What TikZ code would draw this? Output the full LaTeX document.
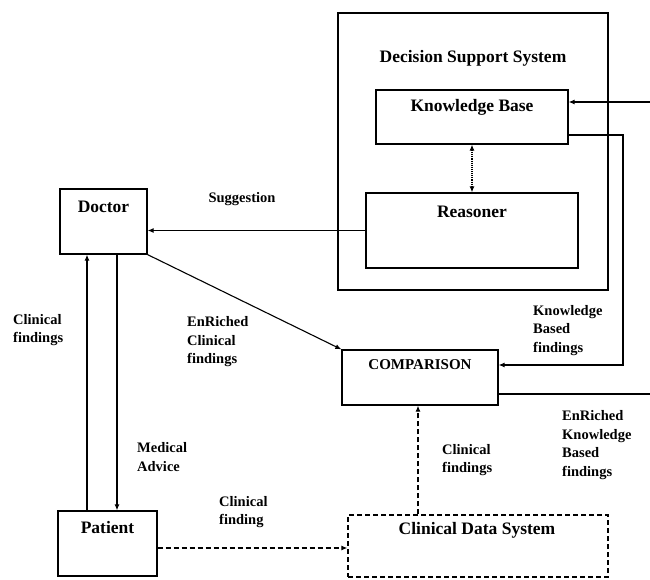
\documentclass[tikz,border=0pt]{standalone}
\usepackage{fontspec}
\setmainfont{Liberation Serif}
\usetikzlibrary{arrows.meta}
\begin{document}
\begin{tikzpicture}[x=1pt,y=-1pt,
  box/.style={draw,line width=1.3pt,inner sep=0pt},
  dbox/.style={box,dashed,dash pattern=on 5pt off 3pt},
  ttl/.style={font=\fontsize{17.5}{20}\selectfont\bfseries,inner sep=0pt},
  ctl/.style={font=\fontsize{15}{18}\selectfont\bfseries,inner sep=0pt},
  lbl/.style={font=\fontsize{14.5}{18.5}\selectfont\bfseries,align=left,anchor=west,inner sep=0pt},
  arr/.style={line width=1.1pt,-{Latex[length=6pt,width=5pt]}},
  darr/.style={arr,dashed,dash pattern=on 5pt off 3pt},
  line/.style={line width=1.1pt}]
\useasboundingbox (0,0) rectangle (650,580);
% boxes
\node[box,minimum width=270pt,minimum height=277pt] (dss) at (473,151.5) {};
\node[ttl] (dsst) at (473,58) {Decision Support System};
\node[box,minimum width=192pt,minimum height=54pt] (kb) at (472,117) {};
\node[ttl] (kbt) at (472,107) {Knowledge Base};
\node[box,minimum width=212pt,minimum height=75pt] (rs) at (472,230.5) {};
\node[ttl] (rst) at (472,212) {Reasoner};
\node[box,minimum width=87pt,minimum height=65pt] (doc) at (103.5,221.5) {};
\node[ttl] (doct) at (103.5,207) {Doctor};
\node[box,minimum width=156pt,minimum height=55pt] (comp) at (420,377.5) {};
\node[ctl] (compt) at (420,365) {COMPARISON};
\node[box,minimum width=99pt,minimum height=65pt] (pat) at (107.5,543.5) {};
\node[ttl] (patt) at (107.5,528) {Patient};
\node[dbox,minimum width=260pt,minimum height=62pt] (cds) at (478,546) {};
\node[ttl] (cdst) at (477,530) {Clinical Data System};
% helper coordinates
\coordinate (upx) at (87,0);
\coordinate (dnx) at (117,0);
\coordinate (pcy) at (0,548);
\coordinate (cx) at (418,0);
\coordinate (kbo) at (0,135);
\coordinate (kbi) at (0,102);
\coordinate (k1) at (623,135);
\coordinate (k2) at (623,365);
\coordinate (c1) at (0,394);
\coordinate (c2) at (662,394);
\coordinate (c3) at (662,102);
% connectors
\draw[line,densely dotted,{Latex[length=6pt,width=5pt]}-{Latex[length=6pt,width=5pt]}] (kb.south) -- (rs.north);
\draw[arr] (rs.west) -- (rs.west -| doc.east);
\draw[arr] (doc.south east) -- (comp.north west);
\draw[arr] (pat.north -| upx) -- (doc.south -| upx);
\draw[arr] (doc.south -| dnx) -- (pat.north -| dnx);
\draw[darr] (pat.east |- pcy) -- (cds.west |- pcy);
\draw[darr] (cds.north -| cx) -- (comp.south -| cx);
\draw[arr] (kb.east |- kbo) -- (k1) -- (k2) -- (comp.east |- k2);
\draw[arr] (comp.east |- c1) -- (c2) -- (c3) -- (kb.east |- kbi);
% labels
\node[font=\fontsize{14.5}{18.5}\selectfont\bfseries,inner sep=0pt] (sug) at (242,199) {Suggestion};
\node[lbl] (ecf) at (187,342) {EnRiched\\Clinical\\findings};
\node[lbl] (kbf) at (533,330.5) {Knowledge\\Based\\findings};
\node[lbl] (ekbf) at (562,445) {EnRiched\\Knowledge\\Based\\findings};
\node[lbl] (clf) at (13,330) {Clinical\\findings};
\node[lbl] (ma) at (137,457) {Medical\\Advice};
\node[lbl] (clf2) at (219,512) {Clinical\\finding};
\node[lbl] (clf3) at (442,460) {Clinical\\findings};
\end{tikzpicture}
\end{document}
